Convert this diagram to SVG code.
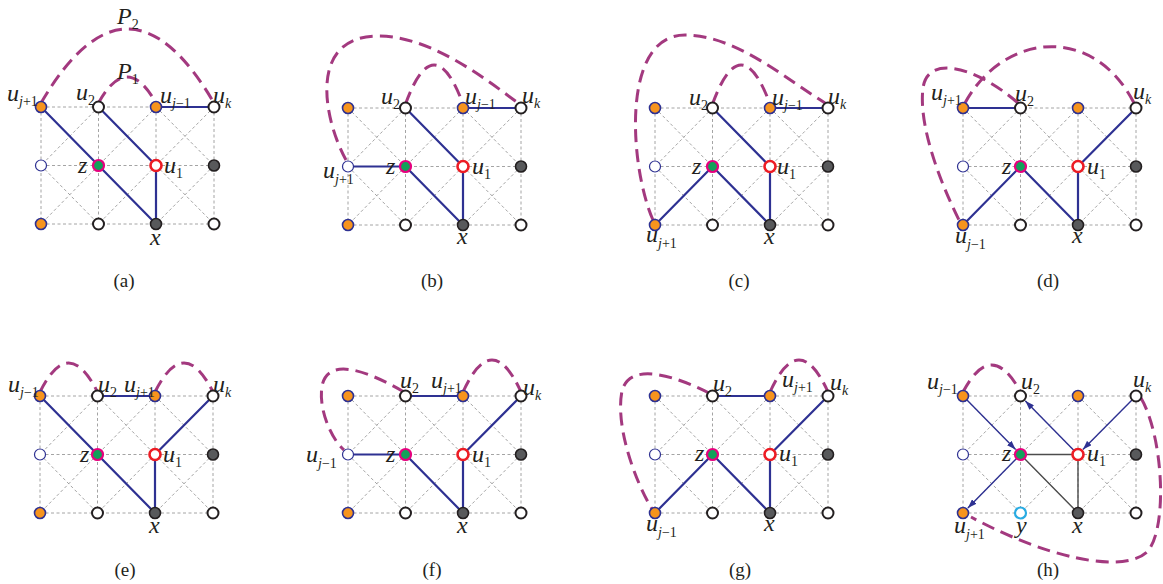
<svg xmlns="http://www.w3.org/2000/svg" xmlns:xlink="http://www.w3.org/1999/xlink" width="1163" height="584" viewBox="0 0 1163 584">
<style>
.g{fill:none;stroke:#9a9a9a;stroke-width:0.9;stroke-dasharray:3 2.5}
.e{fill:none;stroke:#2e3192;stroke-width:2.2}
.p{fill:none;stroke:#a3397f;stroke-width:3;stroke-dasharray:13 7}
.k{fill:none;stroke:#4d4d4d;stroke-width:1.4}
.ar{fill:none;stroke:#2e3192;stroke-width:1.4;marker-end:url(#ah)}
.or{fill:#f7941d;stroke:#2e3192;stroke-width:1.6}
.w{fill:#fff;stroke:#231f20;stroke-width:2}
.wb{fill:#fff;stroke:#2e3192;stroke-width:1.2}
.z{fill:#13a05a;stroke:#e6007e;stroke-width:2.2}
.r{fill:#fff;stroke:#ed1c24;stroke-width:2.6}
.d{fill:#58595b;stroke:#231f20;stroke-width:1.6}
.c{fill:#fff;stroke:#29abe2;stroke-width:2.2}
.t{font-family:"Liberation Serif",serif;font-style:italic;font-size:24px;fill:#231f20}
.s{font-size:14px}
.n{font-style:normal}
.cap{font-family:"Liberation Serif",serif;font-size:19px;fill:#231f20;text-anchor:middle}
</style>
<defs>
<marker id="ah" viewBox="0 0 10 7" refX="10" refY="3.5" markerWidth="9" markerHeight="6.3" markerUnits="userSpaceOnUse" orient="auto"><path d="M0,0L10,3.5L0,7z" fill="#2e3192"/></marker>
<path id="grid" class="g" d="M0,0H173M0,58.5H173M0,117H173M0,0V117M57.5,0V117M115,0V117M173,0V117M0,0L57.5,58.5M57.5,0L0,58.5M57.5,0L115,58.5M115,0L57.5,58.5M115,0L173,58.5M173,0L115,58.5M0,58.5L57.5,117M57.5,58.5L0,117M57.5,58.5L115,117M115,58.5L57.5,117M115,58.5L173,117M173,58.5L115,117"/>
</defs>

<!-- Panel (a) -->
<g id="panel-a" transform="translate(41,107)">
<use xlink:href="#grid" href="#grid"/>
<g id="a-connectors">
<path class="e" d="M0,0L115,117M57.5,0L115,58.5M115,58.5V117M115,0H173"/>
<path class="p" d="M0,-4Q86.5,-152 173,-4"/>
<path class="p" d="M57.5,-4Q86,-56 115,-4"/>
<text class="t" x="76" y="-83">P<tspan class="s n" dy="5">2</tspan></text>
<text class="t" x="76" y="-28">P<tspan class="s n" dy="5">1</tspan></text>
</g>
<g id="a-nodes">
<g id="a-n00"><circle class="or" cx="0" cy="0" r="5.5"/><text class="t" x="-34" y="-6">u<tspan class="s" dy="5">j<tspan class="n">+1</tspan></tspan></text></g>
<g id="a-n10"><circle class="w" cx="57.5" cy="0" r="5.5"/><text class="t" x="35" y="-7">u<tspan class="s n" dy="5">2</tspan></text></g>
<g id="a-n20"><circle class="or" cx="115" cy="0" r="5.5"/><text class="t" x="119" y="-4">u<tspan class="s" dy="5">j<tspan class="n">−1</tspan></tspan></text></g>
<g id="a-n30"><circle class="w" cx="173" cy="0" r="5.5"/><text class="t" x="172" y="-4">u<tspan class="s" dy="5">k</tspan></text></g>
<g id="a-n01"><circle class="wb" cx="0" cy="58.5" r="5.5"/></g>
<g id="a-n11"><circle class="z" cx="57.5" cy="58.5" r="5.5"/><text class="t" x="37" y="66">z</text></g>
<g id="a-n21"><circle class="r" cx="115" cy="58.5" r="5.5"/><text class="t" x="123" y="66">u<tspan class="s n" dy="5">1</tspan></text></g>
<g id="a-n31"><circle class="d" cx="173" cy="58.5" r="5.5"/></g>
<g id="a-n02"><circle class="or" cx="0" cy="117" r="5.5"/></g>
<g id="a-n12"><circle class="w" cx="57.5" cy="117" r="5.5"/></g>
<g id="a-n22"><circle class="d" cx="115" cy="117" r="5.5"/><text class="t" x="109" y="138">x</text></g>
<g id="a-n32"><circle class="w" cx="173" cy="117" r="5.5"/></g>
</g>
<text class="cap" x="83" y="180">(a)</text>
</g>

<!-- Panel (b) -->
<g id="panel-b" transform="translate(348,108)">
<use xlink:href="#grid" href="#grid"/>
<g id="b-connectors">
<path class="e" d="M0,58.5H57.5M57.5,58.5L115,117M57.5,0L115,58.5M115,58.5V117M115,0H173"/>
<path class="p" d="M57.5,-4Q86,-82 115,-4"/>
<path class="p" d="M-2,52C-25,10 -40,-72 30,-72C80,-72 130,-35 170,-5"/>
</g>
<g id="b-nodes">
<g id="b-n00"><circle class="or" cx="0" cy="0" r="5.5"/></g>
<g id="b-n10"><circle class="w" cx="57.5" cy="0" r="5.5"/><text class="t" x="33" y="-4">u<tspan class="s n" dy="5">2</tspan></text></g>
<g id="b-n20"><circle class="or" cx="115" cy="0" r="5.5"/><text class="t" x="117" y="-4">u<tspan class="s" dy="5">j<tspan class="n">−1</tspan></tspan></text></g>
<g id="b-n30"><circle class="w" cx="173" cy="0" r="5.5"/><text class="t" x="174" y="-5">u<tspan class="s" dy="5">k</tspan></text></g>
<g id="b-n01"><circle class="wb" cx="0" cy="58.5" r="5.5"/><text class="t" x="-25" y="70">u<tspan class="s" dy="6">j<tspan class="n">+1</tspan></tspan></text></g>
<g id="b-n11"><circle class="z" cx="57.5" cy="58.5" r="5.5"/><text class="t" x="38" y="66">z</text></g>
<g id="b-n21"><circle class="r" cx="115" cy="58.5" r="5.5"/><text class="t" x="124" y="66">u<tspan class="s n" dy="5">1</tspan></text></g>
<g id="b-n31"><circle class="d" cx="173" cy="58.5" r="5.5"/></g>
<g id="b-n02"><circle class="or" cx="0" cy="117" r="5.5"/></g>
<g id="b-n12"><circle class="w" cx="57.5" cy="117" r="5.5"/></g>
<g id="b-n22"><circle class="d" cx="115" cy="117" r="5.5"/><text class="t" x="109" y="136">x</text></g>
<g id="b-n32"><circle class="w" cx="173" cy="117" r="5.5"/></g>
</g>
<text class="cap" x="84" y="179">(b)</text>
</g>

<!-- Panel (c) -->
<g id="panel-c" transform="translate(655,108)">
<use xlink:href="#grid" href="#grid"/>
<g id="c-connectors">
<path class="e" d="M0,117L57.5,58.5M57.5,58.5L115,117M57.5,0L115,58.5M115,58.5V117M115,0H173"/>
<path class="p" d="M57.5,-4Q86,-82 115,-4"/>
<path class="p" d="M-2,112C-25,60 -35,-73 30,-73C80,-73 130,-30 170,-5"/>
</g>
<g id="c-nodes">
<g id="c-n00"><circle class="or" cx="0" cy="0" r="5.5"/></g>
<g id="c-n10"><circle class="w" cx="57.5" cy="0" r="5.5"/><text class="t" x="34" y="-3">u<tspan class="s n" dy="5">2</tspan></text></g>
<g id="c-n20"><circle class="or" cx="115" cy="0" r="5.5"/><text class="t" x="117" y="-3">u<tspan class="s" dy="5">j<tspan class="n">−1</tspan></tspan></text></g>
<g id="c-n30"><circle class="w" cx="173" cy="0" r="5.5"/><text class="t" x="173" y="-4">u<tspan class="s" dy="5">k</tspan></text></g>
<g id="c-n01"><circle class="wb" cx="0" cy="58.5" r="5.5"/></g>
<g id="c-n11"><circle class="z" cx="57.5" cy="58.5" r="5.5"/><text class="t" x="37" y="66">z</text></g>
<g id="c-n21"><circle class="r" cx="115" cy="58.5" r="5.5"/><text class="t" x="122" y="66">u<tspan class="s n" dy="5">1</tspan></text></g>
<g id="c-n31"><circle class="d" cx="173" cy="58.5" r="5.5"/></g>
<g id="c-n02"><circle class="or" cx="0" cy="117" r="5.5"/><text class="t" x="-9" y="134">u<tspan class="s" dy="6">j<tspan class="n">+1</tspan></tspan></text></g>
<g id="c-n12"><circle class="w" cx="57.5" cy="117" r="5.5"/></g>
<g id="c-n22"><circle class="d" cx="115" cy="117" r="5.5"/><text class="t" x="109" y="136">x</text></g>
<g id="c-n32"><circle class="w" cx="173" cy="117" r="5.5"/></g>
</g>
<text class="cap" x="84" y="179">(c)</text>
</g>

<!-- Panel (d) -->
<g id="panel-d" transform="translate(963,108)">
<use xlink:href="#grid" href="#grid"/>
<g id="d-connectors">
<path class="e" d="M0,0H57.5M0,117L57.5,58.5M57.5,58.5L115,117M115,58.5V117M115,58.5L173,0"/>
<path class="p" d="M55,-5C15,-40 -35,-55 -40,-20C-45,20 -20,80 -4,112"/>
<path class="p" d="M2,-5C40,-75 130,-85 171,-5"/>
</g>
<g id="d-nodes">
<g id="d-n00"><circle class="or" cx="0" cy="0" r="5.5"/><text class="t" x="-32" y="-8">u<tspan class="s" dy="5">j<tspan class="n">+1</tspan></tspan></text></g>
<g id="d-n10"><circle class="w" cx="57.5" cy="0" r="5.5"/><text class="t" x="52" y="-7">u<tspan class="s n" dy="5">2</tspan></text></g>
<g id="d-n20"><circle class="or" cx="115" cy="0" r="5.5"/></g>
<g id="d-n30"><circle class="w" cx="173" cy="0" r="5.5"/><text class="t" x="170" y="-9">u<tspan class="s" dy="5">k</tspan></text></g>
<g id="d-n01"><circle class="wb" cx="0" cy="58.5" r="5.5"/></g>
<g id="d-n11"><circle class="z" cx="57.5" cy="58.5" r="5.5"/><text class="t" x="39" y="66">z</text></g>
<g id="d-n21"><circle class="r" cx="115" cy="58.5" r="5.5"/><text class="t" x="124" y="66">u<tspan class="s n" dy="5">1</tspan></text></g>
<g id="d-n31"><circle class="d" cx="173" cy="58.5" r="5.5"/></g>
<g id="d-n02"><circle class="or" cx="0" cy="117" r="5.5"/><text class="t" x="-8" y="135">u<tspan class="s" dy="6">j<tspan class="n">−1</tspan></tspan></text></g>
<g id="d-n12"><circle class="w" cx="57.5" cy="117" r="5.5"/></g>
<g id="d-n22"><circle class="d" cx="115" cy="117" r="5.5"/><text class="t" x="109" y="135">x</text></g>
<g id="d-n32"><circle class="w" cx="173" cy="117" r="5.5"/></g>
</g>
<text class="cap" x="85" y="179">(d)</text>
</g>

<!-- Panel (e) -->
<g id="panel-e" transform="translate(40,396)">
<use xlink:href="#grid" href="#grid"/>
<g id="e-connectors">
<path class="e" d="M0,0L115,117M57.5,0H115M115,58.5V117M115,58.5L173,0"/>
<path class="p" d="M0,-4Q28.5,-62 57.5,-4"/>
<path class="p" d="M115,-4Q144,-62 173,-4"/>
</g>
<g id="e-nodes">
<g id="e-n00"><circle class="or" cx="0" cy="0" r="5.5"/><text class="t" x="-32" y="-4">u<tspan class="s" dy="5">j<tspan class="n">−1</tspan></tspan></text></g>
<g id="e-n10"><circle class="w" cx="57.5" cy="0" r="5.5"/><text class="t" x="58" y="-4">u<tspan class="s n" dy="5">2</tspan></text></g>
<g id="e-n20"><circle class="or" cx="115" cy="0" r="5.5"/><text class="t" x="84" y="-4">u<tspan class="s" dy="5">j<tspan class="n">+1</tspan></tspan></text></g>
<g id="e-n30"><circle class="w" cx="173" cy="0" r="5.5"/><text class="t" x="173" y="-4">u<tspan class="s" dy="5">k</tspan></text></g>
<g id="e-n01"><circle class="wb" cx="0" cy="58.5" r="5.5"/></g>
<g id="e-n11"><circle class="z" cx="57.5" cy="58.5" r="5.5"/><text class="t" x="40" y="66">z</text></g>
<g id="e-n21"><circle class="r" cx="115" cy="58.5" r="5.5"/><text class="t" x="123" y="66">u<tspan class="s n" dy="5">1</tspan></text></g>
<g id="e-n31"><circle class="d" cx="173" cy="58.5" r="5.5"/></g>
<g id="e-n02"><circle class="or" cx="0" cy="117" r="5.5"/></g>
<g id="e-n12"><circle class="w" cx="57.5" cy="117" r="5.5"/></g>
<g id="e-n22"><circle class="d" cx="115" cy="117" r="5.5"/><text class="t" x="109" y="137">x</text></g>
<g id="e-n32"><circle class="w" cx="173" cy="117" r="5.5"/></g>
</g>
<text class="cap" x="85" y="180">(e)</text>
</g>

<!-- Panel (f) -->
<g id="panel-f" transform="translate(348,396)">
<use xlink:href="#grid" href="#grid"/>
<g id="f-connectors">
<path class="e" d="M0,58.5H57.5M57.5,58.5L115,117M57.5,0H115M115,58.5V117M115,58.5L173,0"/>
<path class="p" d="M115,-4Q144,-68 173,-4"/>
<path class="p" d="M56,-4C20,-25 -20,-40 -26,-10C-30,15 -15,45 -4,54"/>
</g>
<g id="f-nodes">
<g id="f-n00"><circle class="or" cx="0" cy="0" r="5.5"/></g>
<g id="f-n10"><circle class="w" cx="57.5" cy="0" r="5.5"/><text class="t" x="52" y="-8">u<tspan class="s n" dy="5">2</tspan></text></g>
<g id="f-n20"><circle class="or" cx="115" cy="0" r="5.5"/><text class="t" x="83" y="-8">u<tspan class="s" dy="5">j<tspan class="n">+1</tspan></tspan></text></g>
<g id="f-n30"><circle class="w" cx="173" cy="0" r="5.5"/><text class="t" x="175" y="-1">u<tspan class="s" dy="5">k</tspan></text></g>
<g id="f-n01"><circle class="wb" cx="0" cy="58.5" r="5.5"/><text class="t" x="-42" y="66">u<tspan class="s" dy="6">j<tspan class="n">−1</tspan></tspan></text></g>
<g id="f-n11"><circle class="z" cx="57.5" cy="58.5" r="5.5"/><text class="t" x="38" y="66">z</text></g>
<g id="f-n21"><circle class="r" cx="115" cy="58.5" r="5.5"/><text class="t" x="124" y="66">u<tspan class="s n" dy="5">1</tspan></text></g>
<g id="f-n31"><circle class="d" cx="173" cy="58.5" r="5.5"/></g>
<g id="f-n02"><circle class="or" cx="0" cy="117" r="5.5"/></g>
<g id="f-n12"><circle class="w" cx="57.5" cy="117" r="5.5"/></g>
<g id="f-n22"><circle class="d" cx="115" cy="117" r="5.5"/><text class="t" x="109" y="137">x</text></g>
<g id="f-n32"><circle class="w" cx="173" cy="117" r="5.5"/></g>
</g>
<text class="cap" x="84" y="180">(f)</text>
</g>

<!-- Panel (g) -->
<g id="panel-g" transform="translate(655,396)">
<use xlink:href="#grid" href="#grid"/>
<g id="g-connectors">
<path class="e" d="M0,117L57.5,58.5M57.5,58.5L115,117M57.5,0H115M115,58.5V117M115,58.5L173,0"/>
<path class="p" d="M115,-4Q144,-68 173,-4"/>
<path class="p" d="M54,-3C20,-20 -25,-35 -33,-5C-40,30 -20,85 -3,113"/>
</g>
<g id="g-nodes">
<g id="g-n00"><circle class="or" cx="0" cy="0" r="5.5"/></g>
<g id="g-n10"><circle class="w" cx="57.5" cy="0" r="5.5"/><text class="t" x="58" y="-5">u<tspan class="s n" dy="5">2</tspan></text></g>
<g id="g-n20"><circle class="or" cx="115" cy="0" r="5.5"/><text class="t" x="127" y="-9">u<tspan class="s" dy="5">j<tspan class="n">+1</tspan></tspan></text></g>
<g id="g-n30"><circle class="w" cx="173" cy="0" r="5.5"/><text class="t" x="175" y="-6">u<tspan class="s" dy="5">k</tspan></text></g>
<g id="g-n01"><circle class="wb" cx="0" cy="58.5" r="5.5"/></g>
<g id="g-n11"><circle class="z" cx="57.5" cy="58.5" r="5.5"/><text class="t" x="40" y="65">z</text></g>
<g id="g-n21"><circle class="r" cx="115" cy="58.5" r="5.5"/><text class="t" x="124" y="65">u<tspan class="s n" dy="5">1</tspan></text></g>
<g id="g-n31"><circle class="d" cx="173" cy="58.5" r="5.5"/></g>
<g id="g-n02"><circle class="or" cx="0" cy="117" r="5.5"/><text class="t" x="-9" y="135">u<tspan class="s" dy="6">j<tspan class="n">−1</tspan></tspan></text></g>
<g id="g-n12"><circle class="w" cx="57.5" cy="117" r="5.5"/></g>
<g id="g-n22"><circle class="d" cx="115" cy="117" r="5.5"/><text class="t" x="109" y="135">x</text></g>
<g id="g-n32"><circle class="w" cx="173" cy="117" r="5.5"/></g>
</g>
<text class="cap" x="85" y="180">(g)</text>
</g>

<!-- Panel (h) -->
<g id="panel-h" transform="translate(963,396)">
<use xlink:href="#grid" href="#grid"/>
<g id="h-connectors">
<path class="k" d="M57.5,58.5H115M57.5,58.5L115,117M115,58.5V117"/>
<line class="ar" x1="3" y1="3" x2="52.6" y2="53.5"/>
<line class="ar" x1="112" y1="55.5" x2="62.4" y2="5"/>
<line class="ar" x1="170" y1="3" x2="119.9" y2="53.5"/>
<line class="ar" x1="54.5" y1="61.5" x2="4.9" y2="112"/>
<path class="p" d="M0,-4Q28.5,-58 57.5,-4"/>
<path class="p" d="M178,2C200,40 205,130 185,155C160,180 80,160 8,121"/>
</g>
<g id="h-nodes">
<g id="h-n00"><circle class="or" cx="0" cy="0" r="5.5"/><text class="t" x="-36" y="-7">u<tspan class="s" dy="5">j<tspan class="n">−1</tspan></tspan></text></g>
<g id="h-n10"><circle class="w" cx="57.5" cy="0" r="5.5"/><text class="t" x="58" y="-7">u<tspan class="s n" dy="5">2</tspan></text></g>
<g id="h-n20"><circle class="or" cx="115" cy="0" r="5.5"/></g>
<g id="h-n30"><circle class="w" cx="173" cy="0" r="5.5"/><text class="t" x="170" y="-9">u<tspan class="s" dy="5">k</tspan></text></g>
<g id="h-n01"><circle class="wb" cx="0" cy="58.5" r="5.5"/></g>
<g id="h-n11"><circle class="z" cx="57.5" cy="58.5" r="5.5"/><text class="t" x="39" y="65">z</text></g>
<g id="h-n21"><circle class="r" cx="115" cy="58.5" r="5.5"/><text class="t" x="124" y="65">u<tspan class="s n" dy="5">1</tspan></text></g>
<g id="h-n31"><circle class="d" cx="173" cy="58.5" r="5.5"/></g>
<g id="h-n02"><circle class="or" cx="0" cy="117" r="5.5"/><text class="t" x="-9" y="137">u<tspan class="s" dy="6">j<tspan class="n">+1</tspan></tspan></text></g>
<g id="h-n12"><circle class="c" cx="57.5" cy="117" r="5.5"/><text class="t" x="53" y="137">y</text></g>
<g id="h-n22"><circle class="d" cx="115" cy="117" r="5.5"/><text class="t" x="109" y="137">x</text></g>
<g id="h-n32"><circle class="w" cx="173" cy="117" r="5.5"/></g>
</g>
<text class="cap" x="85" y="180">(h)</text>
</g>
</svg>
